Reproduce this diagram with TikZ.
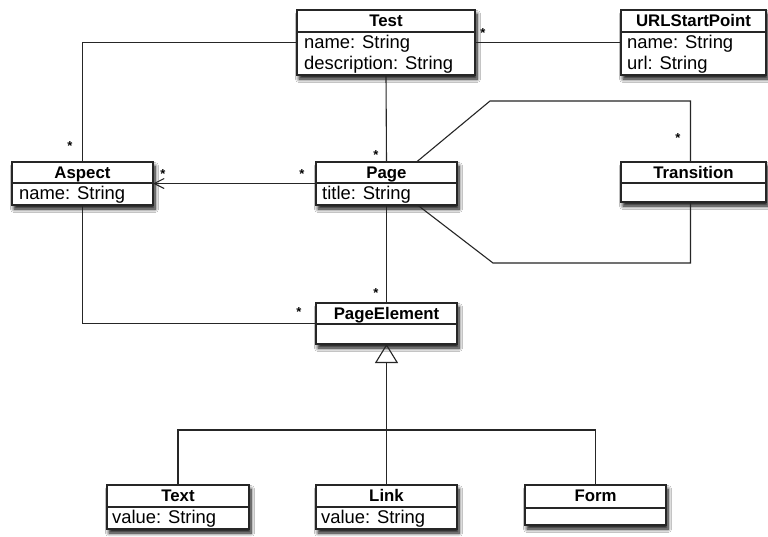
\documentclass[tikz,border=0pt]{standalone}
\usepackage{fontspec}
\setmainfont{Liberation Sans}
\usetikzlibrary{arrows.meta,fit,shadows.blur}

% class box: name, left, top, right, bottom, separator y, title
\newcommand\umlclass[7]{%
  \node[classbox, fit={(#2,#3) (#4,#5)}] (#1) {};
  \draw[sepline] (#2,#6) -- (#4,#6);
  \node[titletext] at ({(#2+#4)/2},{#3+16}) {#7};
}

\begin{document}
\begin{tikzpicture}[x=1pt,y=-1pt,
  classbox/.style={draw=black!85, line width=1.4pt, fill=white, inner sep=0pt, outer sep=0pt,
    blur shadow={shadow xshift=2pt, shadow yshift=-4pt, shadow blur radius=3.5pt, shadow blur steps=8, shadow opacity=95}},
  sepline/.style={draw=black!85, line width=1.2pt},
  titletext/.style={anchor=base, inner sep=0pt, font=\fontsize{16.8}{20}\selectfont\bfseries},
  attrtext/.style={anchor=base west, inner sep=0pt, font=\fontsize{18.4}{21}\selectfont},
  mult/.style={anchor=base, inner sep=0pt, font=\fontsize{13}{13}\selectfont\bfseries},
  assoc/.style={draw=black!85, line width=1.1pt},
]
\useasboundingbox[fill=white] (0,0) rectangle (768,536);

% classes
\umlclass{test}{297}{10}{475}{75}{32}{Test}
\node[attrtext] (testA) at (304,48) {name: String};
\node[attrtext] (testB) at (304,69) {description: String};

\umlclass{url}{621}{10}{766}{75}{32}{URLStartPoint}
\node[attrtext] (urlA) at (627,48) {name: String};
\node[attrtext] (urlB) at (627,69) {url: String};

\umlclass{aspect}{12}{162}{153}{205}{183}{Aspect}
\node[attrtext] (aspectA) at (19,199) {name: String};

\umlclass{page}{316}{162}{457}{205}{183}{Page}
\node[attrtext] (pageA) at (322,199) {title: String};

\umlclass{transition}{621}{162}{766}{202}{183}{Transition}

\umlclass{pageelement}{316}{303}{457}{344}{324}{PageElement}

\umlclass{text}{107}{485}{249}{529}{507}{Text}
\node[attrtext] (textA) at (112,523) {value: String};

\umlclass{link}{316}{485}{457}{529}{507}{Link}
\node[attrtext] (linkA) at (321,523) {value: String};

\umlclass{form}{525}{485}{666}{525}{508}{Form}

% associations
\draw[assoc] (test.west) -| (aspect.north);
\draw[assoc] (test.east) -- (url.west);
\draw[assoc] (test.south) -- (page.north);
\draw[assoc, -{Straight Barb[length=10pt, width=10pt, line width=1.1pt]}] (page.west) -- (aspect.east);
\draw[assoc] (page.south) -- (pageelement.north);
\draw[assoc] (aspect.south) |- (pageelement.west);

\coordinate (bendTop) at (490,101);
\coordinate (bendBot) at (493,263);
\draw[assoc] ([xshift=30pt]page.north) -- (bendTop) -| ([xshift=-3pt]transition.north);
\draw[assoc] ([xshift=31pt]page.south) -- (bendBot) -| ([xshift=-3pt]transition.south);

% generalization
\coordinate (bar) at (387,430);
\draw[assoc] (text.north) |- (bar) -| (form.north);
\draw[assoc, -{Triangle[open, length=19pt, width=23pt, line width=1.1pt]}] (link.north) -- (pageelement.south);

% multiplicities
\node[mult] (m1) at (70,150) {*};
\node[mult] (m2) at (483,37) {*};
\node[mult] (m3) at (376,159) {*};
\node[mult] (m4) at (163,178) {*};
\node[mult] (m5) at (302,178) {*};
\node[mult] (m6) at (678,142) {*};
\node[mult] (m7) at (376,297) {*};
\node[mult] (m8) at (299,316) {*};
\end{tikzpicture}
\end{document}
